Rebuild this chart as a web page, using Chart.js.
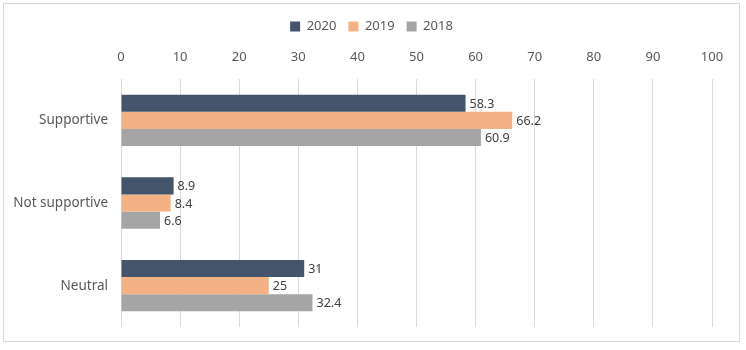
<!DOCTYPE html>
<html>
<head>
<meta charset="utf-8">
<script src="https://cdn.jsdelivr.net/npm/chart.js@4"></script>
<style>
  body { margin: 0; background: #fff; }
  #chartDiv { position: absolute; left: 3px; top: 3px; width: 737px; height: 339px; border: 1px solid #d9d9d9; box-sizing: border-box; }
  #chartDiv canvas { display: block; }
</style>
</head>
<body>
<div id="chartDiv"><canvas id="surveyChart" width="735" height="337"></canvas></div>
<script>
var categories = ['Supportive', 'Not supportive', 'Neutral'];
var seriesNames = ['2020', '2019', '2018'];
var values2020 = [58.3, 8.9, 31];
var values2019 = [66.2, 8.4, 25];
var values2018 = [60.9, 6.6, 32.4];
var seriesColors = ['#44546A', '#F4B183', '#A5A5A5'];

var textColor = '#595959';
var fontFamily = '"Noto Sans", "Open Sans", sans-serif';

// draws the value at the end of every bar
var barValueLabels = {
  id: 'barValueLabels',
  afterDatasetsDraw: function (chart) {
    var ctx = chart.ctx;
    ctx.save();
    ctx.font = '12.5px ' + fontFamily;
    ctx.fillStyle = '#404040';
    ctx.textAlign = 'left';
    ctx.textBaseline = 'middle';
    chart.data.datasets.forEach(function (ds, i) {
      var meta = chart.getDatasetMeta(i);
      meta.data.forEach(function (bar, j) {
        ctx.fillText(String(ds.data[j]), bar.x + 4, bar.y + 1);
      });
    });
    ctx.restore();
  }
};

var ctx = document.getElementById('surveyChart').getContext('2d');
var myChart = new Chart(ctx, {
  type: 'bar',
  data: {
    labels: categories,
    datasets: [
      { label: seriesNames[0], data: values2020, backgroundColor: seriesColors[0] },
      { label: seriesNames[1], data: values2019, backgroundColor: seriesColors[1] },
      { label: seriesNames[2], data: values2018, backgroundColor: seriesColors[2] }
    ]
  },
  options: {
    indexAxis: 'y',
    responsive: false,
    animation: false,
    datasets: { bar: { categoryPercentage: 0.62, barPercentage: 1 } },
    layout: { padding: { left: 0, right: 0, top: 4, bottom: 14 } },
    plugins: {
      legend: {
        display: true,
        position: 'top',
        labels: {
          boxWidth: 10,
          boxHeight: 10,
          padding: 12,
          color: textColor,
          font: { family: fontFamily, size: 13 }
        }
      },
      tooltip: { enabled: false }
    },
    scales: {
      x: {
        position: 'top',
        min: 0,
        max: 100,
        ticks: { stepSize: 10, color: textColor, font: { family: fontFamily, size: 13 }, padding: 14 },
        grid: { color: '#d9d9d9', drawTicks: false },
        border: { display: false },
        afterFit: function (scale) { scale.height = 36; }
      },
      y: {
        ticks: { color: textColor, font: { family: fontFamily, size: 13.5 }, padding: 5 },
        grid: { display: false },
        border: { display: false },
        afterFit: function (scale) { scale.width = 117; }
      },
      // empty axis on the right, only to leave room for the value labels
      yRight: {
        type: 'category',
        position: 'right',
        ticks: { display: false },
        grid: { display: false },
        border: { display: false },
        afterFit: function (scale) { scale.width = 27; }
      }
    }
  },
  plugins: [barValueLabels]
});
</script>
</body>
</html>
